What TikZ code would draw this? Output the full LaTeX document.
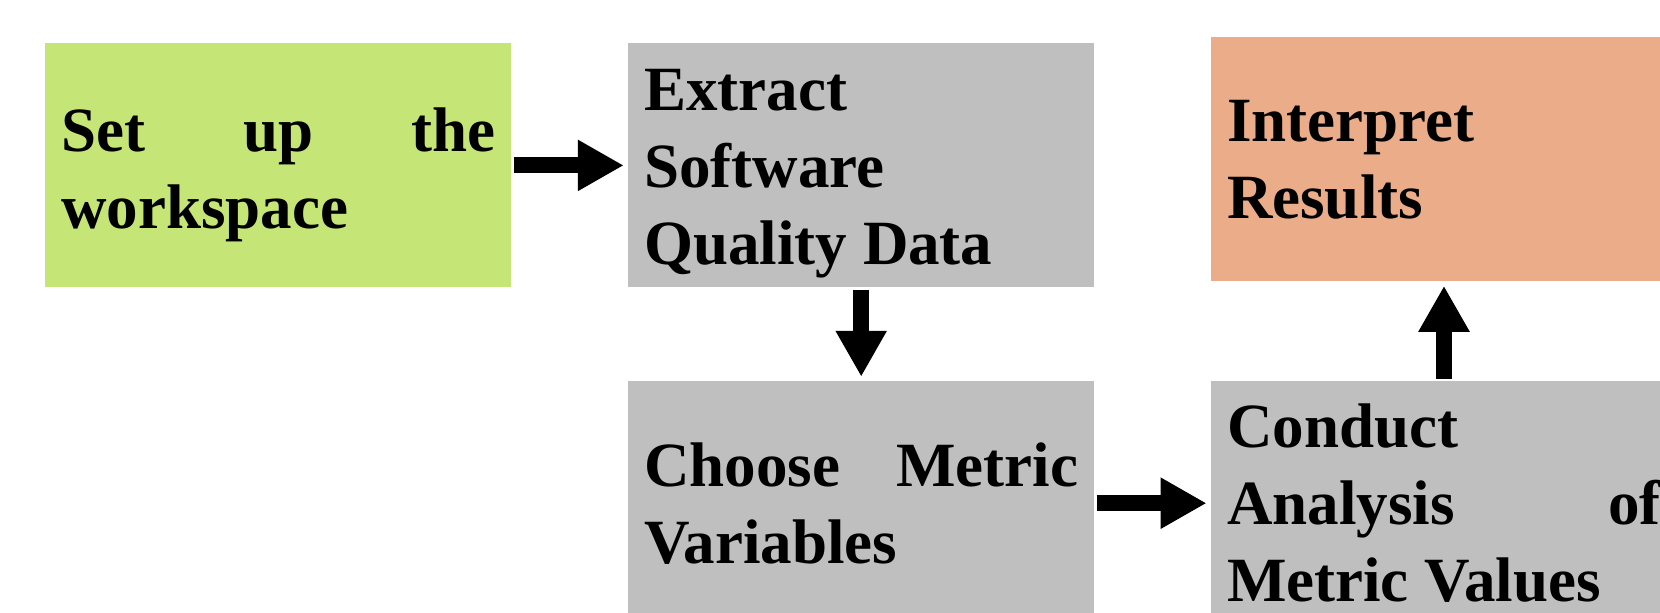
\documentclass[tikz,border=0pt]{standalone}
\usepackage{fontspec}
\setmainfont{Liberation Serif}
\usepackage{tikz}
\usetikzlibrary{arrows.meta,positioning}
\definecolor{limegreen}{RGB}{197,230,118}
\definecolor{silvergray}{RGB}{191,191,191}
\definecolor{pastelsalmon}{RGB}{235,172,137}
\tikzset{
  bloque/.style={
    fill=silvergray,
    align=justify,
    text width=217pt,
    minimum height=122pt,
    inner xsep=8pt,
    inner ysep=2pt,
    font=\fontsize{31.5}{38.5}\selectfont\bfseries
  },
  bajar/.style={
    execute at begin node={\rule{0pt}{#1}}
  },
  arrow/.style={
    -{Triangle[length=23pt,width=24pt]},
    line width=8pt,
    black,
    shorten >=2pt,
    shorten <=1pt
  }
}

\begin{document}
\begin{tikzpicture}
\useasboundingbox (0,0) rectangle (830pt,-306.5pt);
\clip (0,0) rectangle (830pt,-306.5pt);
\node[bloque, bajar=31.5pt, fill=limegreen, anchor=north west] (setup) at (22.5pt,-21.5pt) {Set up the\linebreak workspace};
\node[bloque, bajar=28.5pt, right=58pt of setup] (extract) {Extract\linebreak Software\linebreak Quality Data};
\node[bloque, below=46.5pt of extract] (choose) {Choose Metric\linebreak Variables};
\node[bloque, right=58pt of choose] (conduct) {Conduct\linebreak Analysis of\linebreak Metric Values};
\node[bloque, fill=pastelsalmon, above=49.5pt of conduct] (interpret) {Interpret\linebreak Results};
\draw[arrow] (setup) -- (extract);
\draw[arrow] (extract) -- (choose);
\draw[arrow] (choose) -- (conduct);
\draw[arrow] (conduct) -- (interpret);
\end{tikzpicture}
\end{document}
